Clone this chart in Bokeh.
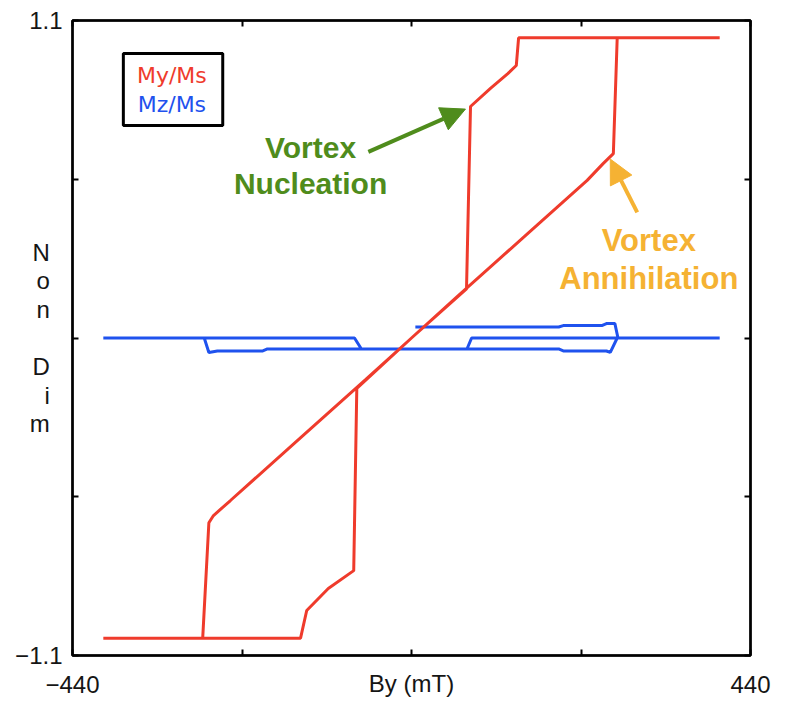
from bokeh.plotting import figure
from bokeh.models import (Range1d, FixedTicker, LinearAxis, Label, BoxAnnotation, Arrow, NormalHead,
                          CustomLabelingPolicy)
from bokeh.embed import file_html
from bokeh.resources import INLINE

nan = float("nan")

# My/Ms hysteresis loop (descending branch then ascending branch)
my_field = [400, 267, 262, 249, 228, 150, 60, 0, -60, -150, -235, -257, -263, -271, -400,
            -144, -136, -108, -75, -71, 0, 71.4, 76.6, 102.5, 125, 136, 139, 400]
my_value = [1.04, 1.04, 0.639, 0.605, 0.546, 0.36, 0.145, 0.0, -0.145, -0.36, -0.563, -0.615, -0.64, -1.04, -1.04,
            -1.04, -0.944, -0.868, -0.806, -0.175, 0.0, 0.17, 0.802, 0.865, 0.916, 0.944, 1.04, 1.04]

# Mz/Ms (three traced pieces separated by gaps)
mz_field = [-400, -74, -65, 72, 78, 400, nan,
            -269, -263, -252, -193, -187, -65, 191, 197, 253, 258, 267, nan,
            5, 191, 197, 247, 253, 264, 268]
mz_value = [0, 0, -0.038, -0.038, 0, 0, nan,
            0, -0.05, -0.045, -0.045, -0.038, -0.038, -0.038, -0.045, -0.045, -0.05, 0, nan,
            0.038, 0.038, 0.043, 0.043, 0.05, 0.05, 0]

x_ticks = [-440, -220, 0, 220, 440]
y_ticks = [-1.1, -0.55, 0, 0.55, 1.1]
labelled_tick_index = [0, 4]   # only the extreme ticks carry labels

RED = "#ef3b2c"
BLUE = "#1f52ee"
GREEN = "#4f8c1c"
ORANGE = "#f5b233"
FONT = "Liberation Sans"
TXT = "#151515"

p = figure(width=789, height=713, output_backend="svg", toolbar_location=None,
           x_range=Range1d(-440, 440), y_range=Range1d(-1.1, 1.1),
           min_border_left=72, min_border_right=39, min_border_top=20, min_border_bottom=58,
           x_axis_location=None, y_axis_location=None)
p.grid.visible = False
p.outline_line_color = "black"
p.outline_line_width = 2.5
p.background_fill_color = "white"
p.border_fill_color = "white"

keep_policy = CustomLabelingPolicy(args=dict(keep=labelled_tick_index), code="""
const n = indices.size
for (let i = 0; i < n; i++) {
  if (!keep.includes(i)) indices.unset(i)
}
return indices
""")

def make_axis(ticks, show_labels):
    ax = LinearAxis(ticker=FixedTicker(ticks=ticks))
    ax.major_tick_in = 6
    ax.major_tick_out = 0
    ax.major_tick_line_width = 2
    ax.minor_tick_line_color = None
    ax.axis_line_color = "black"
    ax.axis_line_width = 2
    ax.major_label_text_font = FONT
    ax.major_label_text_font_size = "24px"
    ax.major_label_text_color = TXT
    if show_labels:
        ax.major_label_policy = keep_policy
    else:
        ax.major_label_text_color = None
        ax.major_label_standoff = 0
    return ax

xb = make_axis(x_ticks, True)
xb.major_label_standoff = 20
xb.axis_label = "By (mT)"
xb.axis_label_text_font = FONT
xb.axis_label_text_font_style = "normal"
xb.axis_label_text_font_size = "24px"
xb.axis_label_text_color = TXT
xb.axis_label_standoff = -26
p.add_layout(xb, "below")
p.add_layout(make_axis(x_ticks, False), "above")

yl = make_axis(y_ticks, True)
yl.major_label_standoff = 10
yl.axis_label = "N\no\nn\n\nD\ni\nm"
yl.axis_label_orientation = "horizontal"
yl.axis_label_text_font = FONT
yl.axis_label_text_font_style = "normal"
yl.axis_label_text_font_size = "24px"
yl.axis_label_text_line_height = 1.06
yl.axis_label_text_color = TXT
yl.axis_label_text_align = "center"
yl.axis_label_standoff = -51
p.add_layout(yl, "left")
p.add_layout(make_axis(y_ticks, False), "right")

p.line(mz_field, mz_value, line_color=BLUE, line_width=3)
p.line(my_field, my_value, line_color=RED, line_width=3)

# legend box
p.add_layout(BoxAnnotation(left=-374, right=-245, bottom=0.736, top=0.986,
                           fill_color="white", fill_alpha=1, line_color="black", line_alpha=1,
                           line_width=3))
p.add_layout(Label(x=-311, y=0.91, text="My/Ms", text_align="center", text_baseline="middle",
                   text_font="DejaVu Sans", text_font_size="22px", text_color=RED))
p.add_layout(Label(x=-311, y=0.808, text="Mz/Ms", text_align="center", text_baseline="middle",
                   text_font="DejaVu Sans", text_font_size="22px", text_color=BLUE))

# annotations
for txt, yy in [("Vortex", 0.66), ("Nucleation", 0.534)]:
    p.add_layout(Label(x=-131, y=yy, text=txt, text_align="center", text_baseline="middle",
                       text_font=FONT, text_font_style="bold", text_font_size="30px",
                       text_color=GREEN))
p.add_layout(Arrow(x_start=-56, y_start=0.645, x_end=70, y_end=0.793,
                   line_color=GREEN, line_width=4,
                   end=NormalHead(size=24, fill_color=GREEN, line_color=GREEN)))
for txt, yy in [("Vortex", 0.338), ("Annihilation", 0.206)]:
    p.add_layout(Label(x=308, y=yy, text=txt, text_align="center", text_baseline="middle",
                       text_font=FONT, text_font_style="bold", text_font_size="31px",
                       text_color=ORANGE))
p.add_layout(Arrow(x_start=293, y_start=0.435, x_end=258, y_end=0.62,
                   line_color=ORANGE, line_width=4,
                   end=NormalHead(size=24, fill_color=ORANGE, line_color=ORANGE)))

open("out.html", "w").write(file_html(p, INLINE))
